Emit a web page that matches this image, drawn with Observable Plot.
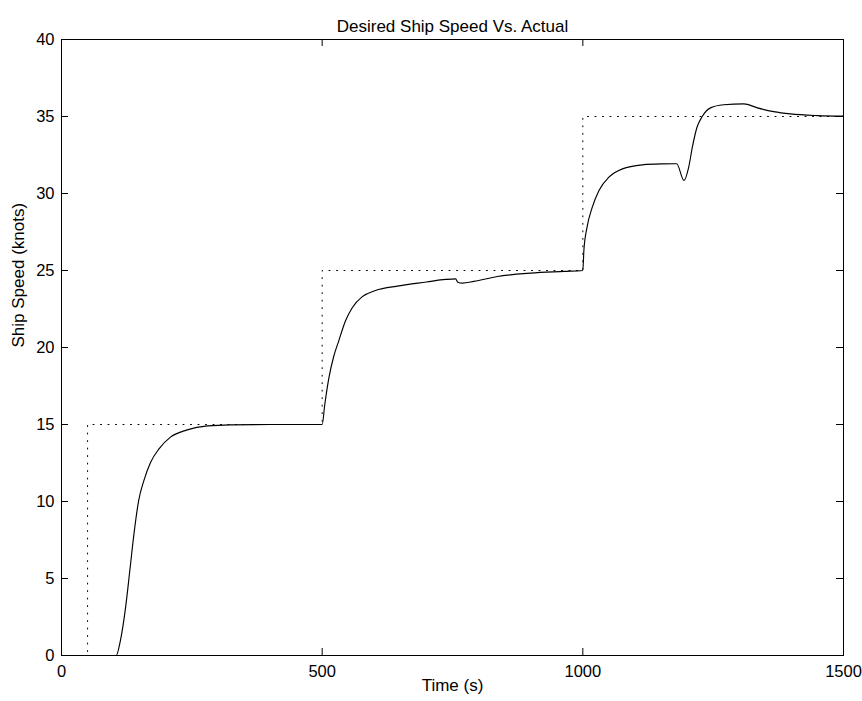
<!DOCTYPE html>
<html>
<head>
<meta charset="utf-8">
<script src="https://cdn.jsdelivr.net/npm/d3@7"></script>
<script src="https://cdn.jsdelivr.net/npm/@observablehq/plot@0.6"></script>
<style>
  html, body { margin: 0; padding: 0; background: #fff; }
</style>
</head>
<body>
<div id="chart"></div>
<script>
// ---- texts ----
const title = "Desired Ship Speed Vs. Actual";
const xLabel = "Time (s)";
const yLabel = "Ship Speed (knots)";

// ---- ticks ----
const xTicks = [0, 500, 1000, 1500];
const yTicks = [0, 5, 10, 15, 20, 25, 30, 35, 40];

// ---- desired speed (dotted step) ----
const desiredTime  = [0, 50, 50, 500, 500, 1000, 1000, 1500];
const desiredSpeed = [0, 0, 15, 15, 25, 25, 35, 35];

// ---- actual speed (solid) ----
const actualTime = [0, 105, 113, 123, 131, 139, 148, 158, 171, 187, 209, 241, 280, 324, 400, 500,
  505, 513, 522, 532, 545, 558, 577, 602, 647, 700, 737, 756, 760, 769, 791, 836, 900, 964, 1000,
  1002, 1008, 1018, 1031, 1050, 1076, 1114, 1150, 1180, 1194, 1203, 1210, 1219, 1229, 1245, 1270,
  1309, 1335, 1366, 1398, 1450, 1500];
const actualSpeed = [0, 0, 0.97, 3.14, 5.5, 7.9, 10.06, 11.36, 12.55, 13.42, 14.18, 14.65, 14.91, 14.98, 15.0, 15.0,
  16.3, 18.05, 19.4, 20.45, 21.75, 22.6, 23.3, 23.7, 24.0, 24.25, 24.42, 24.46, 24.24, 24.18, 24.29, 24.61, 24.83, 24.94, 25.0,
  26.3, 27.8, 29.1, 30.2, 31.06, 31.6, 31.86, 31.92, 31.93, 30.85, 31.7, 33.0, 34.3, 35.0, 35.56, 35.76,
  35.82, 35.56, 35.32, 35.17, 35.06, 35.02];

const desired = desiredTime.map((t, i) => ({t, v: desiredSpeed[i]}));
const actual = actualTime.map((t, i) => ({t, v: actualSpeed[i]}));

const W = 862, H = 701;
const mL = 61, mR = 19, mT = 39, mB = 46;
const innerW = W - mL - mR, innerH = H - mT - mB;
const tickLen = 7;

const chart = Plot.plot({
  width: W,
  height: H,
  marginLeft: mL,
  marginRight: mR,
  marginTop: mT,
  marginBottom: mB,
  style: {
    fontFamily: "'Liberation Sans', Arial, Helvetica, sans-serif",
    fontSize: "16.5px",
    background: "#fff",
    color: "#000",
    overflow: "visible"
  },
  x: {domain: [0, 1500]},
  y: {domain: [0, 40]},
  marks: [
    // data
    Plot.line(desired, {x: "t", y: "v", stroke: "#000", strokeWidth: 1, strokeDasharray: "1,6.5"}),
    Plot.line(actual, {x: "t", y: "v", stroke: "#000", strokeWidth: 1.15, curve: "monotone-x"}),
    // axes labels (no outward ticks)
    Plot.axisX({ticks: xTicks, tickSize: 0, tickPadding: 10, label: null, tickFormat: d => String(d)}),
    Plot.axisY({ticks: yTicks, tickSize: 0, tickPadding: 7, label: null, tickFormat: d => String(d)}),
    // inward ticks on all four sides
    Plot.tickX(xTicks, {x: d => d, insetTop: innerH - tickLen, stroke: "#000"}),
    Plot.tickX(xTicks, {x: d => d, insetBottom: innerH - tickLen, stroke: "#000"}),
    Plot.tickY(yTicks, {y: d => d, insetRight: innerW - tickLen, stroke: "#000"}),
    Plot.tickY(yTicks, {y: d => d, insetLeft: innerW - tickLen, stroke: "#000"}),
    Plot.frame({stroke: "#000", strokeWidth: 1}),
    // title and axis labels
    Plot.text([title], {frameAnchor: "top", dy: -20, fontSize: 17, fill: "#000"}),
    Plot.text([xLabel], {frameAnchor: "bottom", dy: 35, fontSize: 17, fill: "#000"}),
    Plot.text([yLabel], {frameAnchor: "left", dx: -43, rotate: -90, fontSize: 17, fill: "#000"})
  ]
});

document.getElementById("chart").appendChild(chart);
</script>
</body>
</html>
